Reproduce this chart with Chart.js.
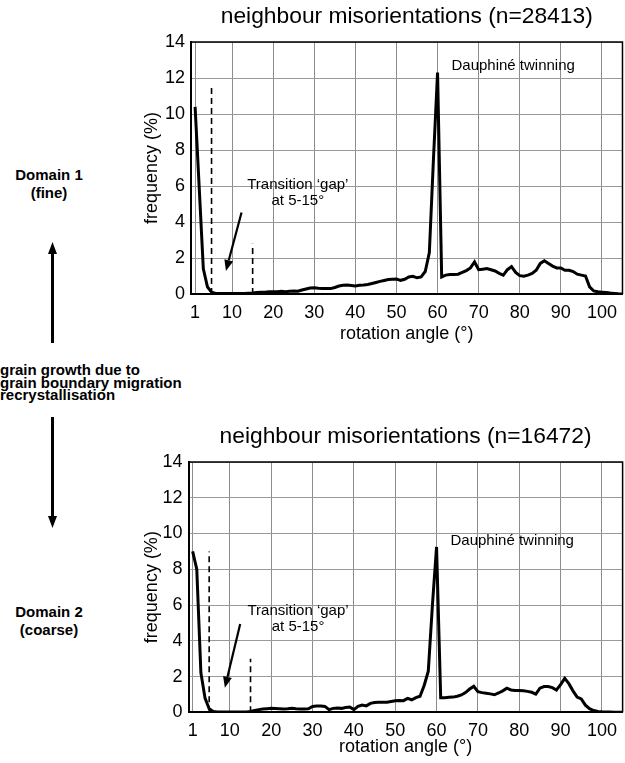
<!DOCTYPE html>
<html><head><meta charset="utf-8">
<script src="https://cdn.jsdelivr.net/npm/chart.js@4"></script>
<style>
html,body{margin:0;padding:0;background:#fff;width:625px;height:763px;overflow:hidden;position:relative;}
canvas{position:absolute;}
#c1{left:130px;top:0;}
#c2{left:130px;top:420px;}
.side{position:absolute;font-family:'Liberation Sans',Arial,sans-serif;font-weight:bold;color:#000;white-space:nowrap;}
.dom{left:0;width:98px;text-align:center;font-size:15px;line-height:18px;}
#mid{left:0;font-size:15px;line-height:12.6px;top:364px;}
svg{position:absolute;left:0;top:0;}
</style></head><body>
<canvas id="c1" width="495" height="350"></canvas>
<canvas id="c2" width="495" height="343"></canvas>
<svg width="130" height="763">
  <line x1="52.5" y1="343" x2="52.5" y2="252" stroke="#000" stroke-width="3"/>
  <polygon points="52.5,242 48,254 57,254" fill="#000"/>
  <line x1="52.5" y1="417" x2="52.5" y2="518" stroke="#000" stroke-width="3"/>
  <polygon points="52.5,528 48,516 57,516" fill="#000"/>
</svg>
<div class="side dom" style="top:166px;">Domain 1<br>(fine)</div>
<div class="side" id="mid">grain growth due to<br>grain boundary migration<br>recrystallisation</div>
<div class="side dom" style="top:603px;">Domain 2<br>(coarse)</div>
<script>
// ---- data ----
const angles = Array.from({length: 105}, (_, i) => i + 1);
const xTickValues = [1, 10, 20, 30, 40, 50, 60, 70, 80, 90, 100];
const yTickMax = 14;

const fineFreq = [
 10.4, 5.9, 1.4, 0.4, 0.1, 0.03, 0.03, 0.03, 0.03, 0.03,
 0.03, 0.03, 0.03, 0.04, 0.05, 0.08, 0.1, 0.1, 0.12, 0.13,
 0.12, 0.15, 0.13, 0.15, 0.17, 0.15, 0.22, 0.28, 0.33, 0.35,
 0.32, 0.3, 0.31, 0.3, 0.36, 0.44, 0.48, 0.5, 0.47, 0.44,
 0.48, 0.5, 0.53, 0.58, 0.64, 0.7, 0.75, 0.8, 0.82, 0.83,
 0.76, 0.82, 0.95, 0.98, 0.9, 0.95, 1.25, 2.3, 7.5, 12.3,
 0.95, 1.05, 1.08, 1.08, 1.1, 1.2, 1.3, 1.45, 1.78, 1.35,
 1.38, 1.41, 1.35, 1.28, 1.15, 1.05, 1.35, 1.52, 1.2, 1.02,
 0.99, 1.05, 1.14, 1.32, 1.7, 1.85, 1.7, 1.55, 1.45, 1.45,
 1.32, 1.32, 1.25, 1.1, 1.05, 1.0, 0.4, 0.17, 0.12, 0.1,
 0.08, 0.05, 0.03, 0.01, 0
];
const coarseFreq = [
 9.0, 8.0, 2.2, 0.8, 0.2, 0.05, 0.02, 0.02, 0.02, 0.02,
 0.02, 0.02, 0.02, 0.02, 0.05, 0.1, 0.15, 0.18, 0.2, 0.22,
 0.21, 0.2, 0.19, 0.2, 0.22, 0.2, 0.19, 0.19, 0.2, 0.33,
 0.35, 0.35, 0.33, 0.15, 0.22, 0.24, 0.22, 0.27, 0.3, 0.15,
 0.33, 0.41, 0.36, 0.5, 0.55, 0.56, 0.56, 0.56, 0.6, 0.64,
 0.66, 0.65, 0.78, 0.7, 0.82, 0.9, 1.5, 2.3, 6.0, 9.25,
 0.82, 0.82, 0.84, 0.85, 0.9, 0.97, 1.1, 1.3, 1.45, 1.15,
 1.1, 1.07, 1.03, 0.98, 1.08, 1.2, 1.35, 1.25, 1.22, 1.22,
 1.2, 1.17, 1.12, 1.02, 1.35, 1.44, 1.44, 1.38, 1.25, 1.55,
 1.9, 1.6, 1.2, 0.85, 0.75, 0.4, 0.2, 0.1, 0.05, 0.03,
 0.02, 0.01, 0, 0, 0
];
const titles = ['neighbour misorientations (n=28413)', 'neighbour misorientations (n=16472)'];
const gapLines = [5, 15];
const gapLineTops = [[11.64, 2.79], [9.0, 3.0]];
const gapArrows = [[12.3, 4.53, 8.5, 1.28], [12.5, 4.94, 8.8, 1.38]];
const gapTextPos = [[26, 6.06, 5.18], [26.5, 5.7, 4.77]];
const twinTextPos = [[78.4, 12.7], [78.3, 9.58]];

const FONT = "'Liberation Sans', Arial, sans-serif";

const annoPlugin = {
  id: 'anno',
  afterDraw(chart, args, o) {
    const {ctx, chartArea: a} = chart;
    const x = chart.scales.x, y = chart.scales.y;
    ctx.save();
    // frame (top & right)
    ctx.strokeStyle = '#000'; ctx.lineWidth = 1.5;
    ctx.beginPath(); ctx.moveTo(a.left, a.top); ctx.lineTo(a.right, a.top); ctx.lineTo(a.right, a.bottom); ctx.stroke();
    // dashed gap lines
    ctx.setLineDash([6, 4]); ctx.lineWidth = 1.6;
    gapLines.forEach((g, i) => {
      ctx.beginPath();
      ctx.moveTo(x.getPixelForValue(g), y.getPixelForValue(0));
      ctx.lineTo(x.getPixelForValue(g), y.getPixelForValue(o.tops[i]));
      ctx.stroke();
    });
    ctx.setLineDash([]);
    // arrow
    const [tx, ty, hx, hy] = o.arrow;
    const x0 = x.getPixelForValue(tx), y0 = y.getPixelForValue(ty);
    const x1 = x.getPixelForValue(hx), y1 = y.getPixelForValue(hy);
    const ang = Math.atan2(y1 - y0, x1 - x0), hl = 11, hw = 4.5;
    const bx = x1 - hl * Math.cos(ang), by = y1 - hl * Math.sin(ang);
    ctx.lineWidth = 2.2;
    ctx.beginPath(); ctx.moveTo(x0, y0); ctx.lineTo(bx, by); ctx.stroke();
    ctx.fillStyle = '#000';
    ctx.beginPath(); ctx.moveTo(x1, y1);
    ctx.lineTo(bx + hw * Math.sin(ang), by - hw * Math.cos(ang));
    ctx.lineTo(bx - hw * Math.sin(ang), by + hw * Math.cos(ang));
    ctx.closePath(); ctx.fill();
    // texts
    ctx.font = '15px ' + FONT; ctx.textAlign = 'center'; ctx.textBaseline = 'middle';
    const [gx, gy1, gy2] = o.gapText;
    ctx.fillText('Transition \u2018gap\u2019', x.getPixelForValue(gx), y.getPixelForValue(gy1));
    ctx.fillText('at 5-15\u00b0', x.getPixelForValue(gx), y.getPixelForValue(gy2));
    ctx.fillText('Dauphin\u00e9 twinning', x.getPixelForValue(o.twin[0]), y.getPixelForValue(o.twin[1]));
    // title
    ctx.font = '22.8px ' + FONT;
    ctx.fillText(o.title, (a.left + a.right) / 2, 17);
    ctx.restore();
  }
};

function makeChart(id, values, idx, yAxisWidth, xAxisHeight) {
  return new Chart(document.getElementById(id), {
    type: 'line',
    data: {
      datasets: [{
        data: angles.map((ang, i) => ({x: ang, y: values[i]})),
        borderColor: '#000', borderWidth: 3, pointRadius: 0, tension: 0, fill: false
      }]
    },
    options: {
      responsive: false, animation: false, devicePixelRatio: 1,
      layout: {padding: {top: 42, right: 1, left: 0, bottom: 0}},
      plugins: {
        legend: {display: false}, tooltip: {enabled: false}, title: {display: false},
        anno: {tops: gapLineTops[idx], arrow: gapArrows[idx], gapText: gapTextPos[idx], twin: twinTextPos[idx], title: titles[idx]}
      },
      scales: {
        x: {
          type: 'linear', min: 0, max: 105,
          afterBuildTicks: s => { s.ticks = xTickValues.map(v => ({value: v})); },
          afterFit: s => { s.height = xAxisHeight; },
          grid: {color: '#8c8c8c', lineWidth: 1, drawTicks: false},
          border: {color: '#000', width: 2},
          ticks: {color: '#000', font: {family: FONT, size: 18}, padding: 8, autoSkip: false, maxRotation: 0, callback: v => String(v)},
          title: {display: true, text: 'rotation angle (\u00b0)', color: '#000', font: {family: FONT, size: 18}, padding: {top: 0, bottom: 5}}
        },
        y: {
          min: 0, max: yTickMax,
          afterFit: s => { s.width = yAxisWidth; },
          grid: {color: '#9a9a9a', lineWidth: 1, drawTicks: false},
          border: {color: '#000', width: 2},
          ticks: {stepSize: 2, color: '#000', font: {family: FONT, size: 18}, padding: 6},
          title: {display: true, text: 'frequency (%)', color: '#000', font: {family: FONT, size: 18}, padding: {top: 10.9, bottom: 0}}
        }
      }
    },
    plugins: [annoPlugin]
  });
}

makeChart('c1', fineFreq, 0, 61, 56);
makeChart('c2', coarseFreq, 1, 58.5, 50.7);
</script>
</body></html>
